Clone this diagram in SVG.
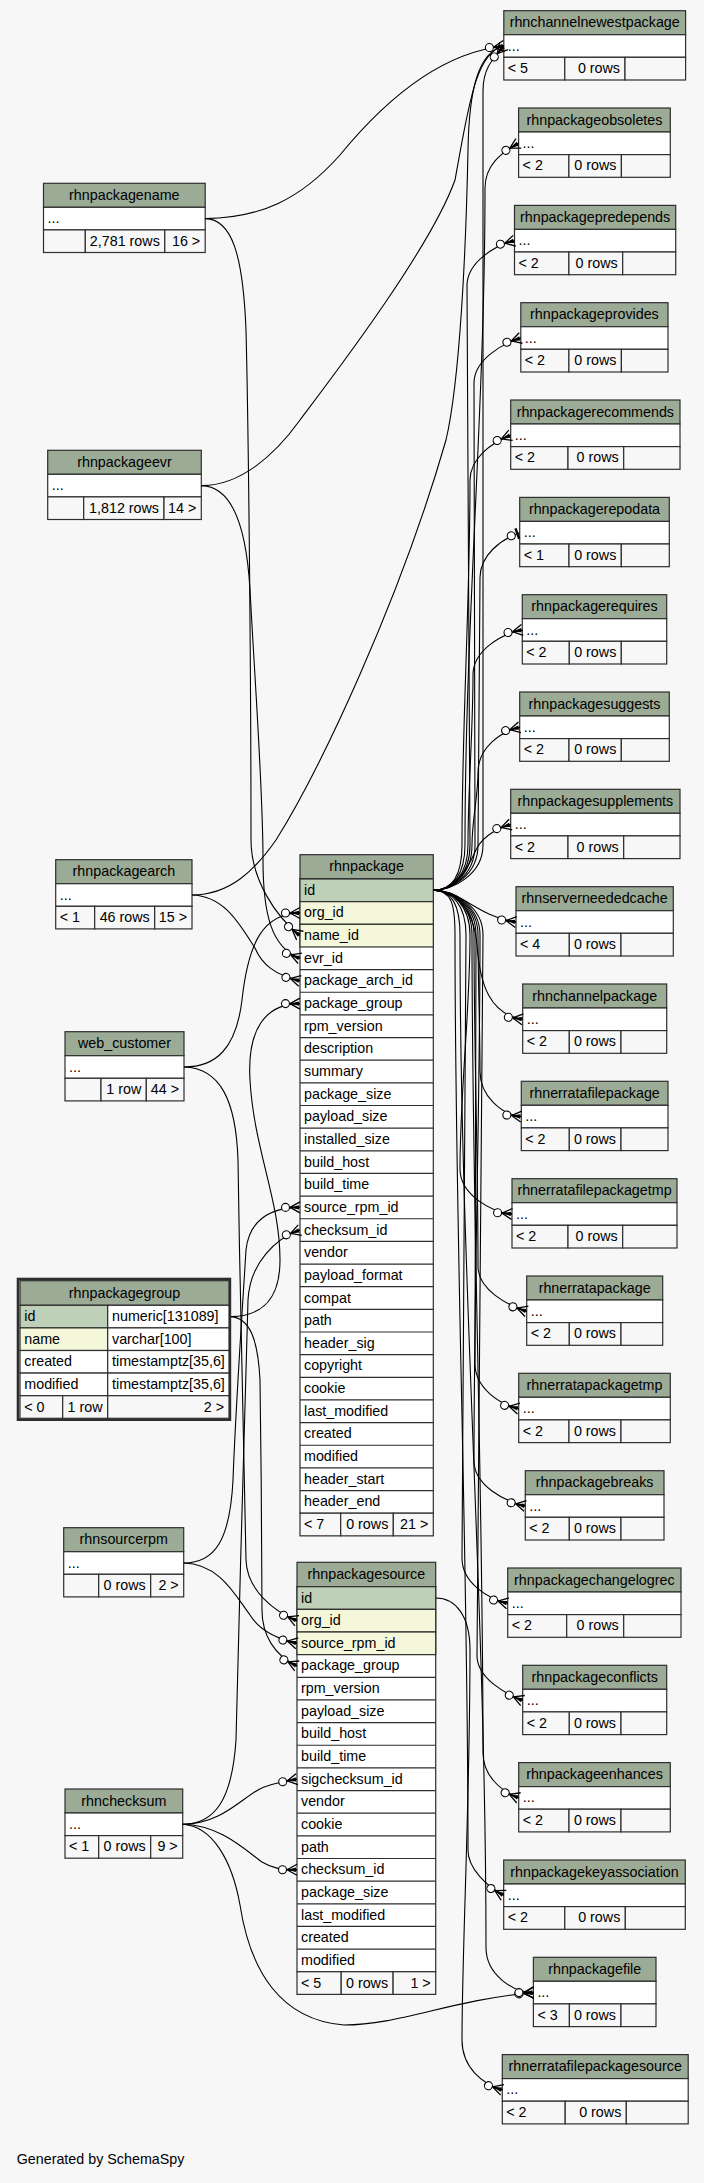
<svg xmlns="http://www.w3.org/2000/svg" width="704" height="2183" viewBox="0 0 704 2183">
<style>
.t{font-family:"Liberation Sans",Arial,Helvetica,sans-serif;font-size:14.3px;fill:#000}
.m{text-anchor:middle}
.r{text-anchor:end}
.c{stroke:#2e2e2e;stroke-width:1.2}
.hd{fill:#9bab96}
.pk{fill:#bed1b8}
.ix{fill:#f4f7da}
.w{fill:#fff}
.f{fill:#f7f7f7}
.ln{fill:none;stroke:#2e2e2e;stroke-width:1.2}
.e{fill:none;stroke:#000;stroke-width:1.1}
</style>
<defs>
<g id="crow">
<path d="M-10,0 L0,-5.5 M-10,0 L0,5.5 M-10,0 L0,0" fill="none" stroke="#000" stroke-width="1.3"/>
<path d="M-10,0 L-1,-2.2 L-1,2.2 Z" fill="#000"/>
<circle cx="-14.5" cy="0" r="4" fill="#fff" stroke="#000" stroke-width="1.1"/>
</g>
<g id="tee">
<path d="M-2.5,-5.5 L-2.5,5.5" stroke="#000" stroke-width="2.4"/>
<circle cx="-9" cy="0" r="4" fill="#fff" stroke="#000" stroke-width="1.1"/>
</g>
</defs>
<rect x="0" y="0" width="704" height="2183" fill="#f7f7f7"/>

<g id="rhnpackagename">
<rect class="hd c" x="43.5" y="183.3" width="161.7" height="24"/>
<rect class="w c" x="43.5" y="207.3" width="161.7" height="22.6"/>
<rect class="f c" x="43.5" y="229.9" width="41.8" height="22.6"/>
<rect class="f c" x="85.3" y="229.9" width="79.5" height="22.6"/>
<rect class="f c" x="164.8" y="229.9" width="40.4" height="22.6"/>
<text class="t m" x="124.35" y="199.8">rhnpackagename</text>
<text class="t" x="47.5" y="223.1">...</text>
<text class="t r" x="159.8" y="245.7">2,781 rows</text>
<text class="t r" x="200.2" y="245.7">16 &gt;</text>
</g>

<g id="rhnpackageevr">
<rect class="hd c" x="47.7" y="450.3" width="153.6" height="24"/>
<rect class="w c" x="47.7" y="474.3" width="153.6" height="22.6"/>
<rect class="f c" x="47.7" y="496.9" width="36" height="22.6"/>
<rect class="f c" x="83.7" y="496.9" width="80.3" height="22.6"/>
<rect class="f c" x="164" y="496.9" width="37.3" height="22.6"/>
<text class="t m" x="124.5" y="466.8">rhnpackageevr</text>
<text class="t" x="51.7" y="490.1">...</text>
<text class="t r" x="159" y="512.7">1,812 rows</text>
<text class="t r" x="196.3" y="512.7">14 &gt;</text>
</g>

<g id="rhnpackagearch">
<rect class="hd c" x="55.7" y="859.7" width="136.3" height="24"/>
<rect class="w c" x="55.7" y="883.7" width="136.3" height="22.6"/>
<rect class="f c" x="55.7" y="906.3" width="39" height="22.6"/>
<rect class="f c" x="94.7" y="906.3" width="60" height="22.6"/>
<rect class="f c" x="154.7" y="906.3" width="37.3" height="22.6"/>
<text class="t m" x="123.85" y="876.2">rhnpackagearch</text>
<text class="t" x="59.7" y="899.5">...</text>
<text class="t" x="59.7" y="922.1">&lt; 1</text>
<text class="t r" x="149.7" y="922.1">46 rows</text>
<text class="t r" x="187" y="922.1">15 &gt;</text>
</g>

<g id="web_customer">
<rect class="hd c" x="65" y="1031.7" width="119" height="24"/>
<rect class="w c" x="65" y="1055.7" width="119" height="22.6"/>
<rect class="f c" x="65" y="1078.3" width="36" height="22.6"/>
<rect class="f c" x="101" y="1078.3" width="45.3" height="22.6"/>
<rect class="f c" x="146.3" y="1078.3" width="37.7" height="22.6"/>
<text class="t m" x="124.5" y="1048.2">web_customer</text>
<text class="t" x="69" y="1071.5">...</text>
<text class="t r" x="141.3" y="1094.1">1 row</text>
<text class="t r" x="179" y="1094.1">44 &gt;</text>
</g>

<g id="rhnpackagegroup">
<rect x="18" y="1279" width="211.9" height="140.7" fill="#fff" stroke="#2e2e2e" stroke-width="2.6"/>
<rect class="hd c" x="20" y="1280.7" width="209" height="24.6"/>
<rect class="pk c" x="20" y="1305.3" width="87.7" height="22.6"/>
<rect class="w c" x="107.7" y="1305.3" width="121.3" height="22.6"/>
<rect class="ix c" x="20" y="1327.9" width="87.7" height="22.6"/>
<rect class="w c" x="107.7" y="1327.9" width="121.3" height="22.6"/>
<rect class="w c" x="20" y="1350.5" width="87.7" height="22.6"/>
<rect class="w c" x="107.7" y="1350.5" width="121.3" height="22.6"/>
<rect class="w c" x="20" y="1373.1" width="87.7" height="22.6"/>
<rect class="w c" x="107.7" y="1373.1" width="121.3" height="22.6"/>
<rect class="f c" x="20" y="1395.7" width="42.7" height="22.6"/>
<rect class="f c" x="62.7" y="1395.7" width="45" height="22.6"/>
<rect class="f c" x="107.7" y="1395.7" width="121.3" height="22.6"/>
<text class="t m" x="124.5" y="1297.5">rhnpackagegroup</text>
<text class="t" x="24.3" y="1321.1">id</text>
<text class="t" x="112" y="1321.1">numeric[131089]</text>
<text class="t" x="24.3" y="1343.7">name</text>
<text class="t" x="112" y="1343.7">varchar[100]</text>
<text class="t" x="24.3" y="1366.3">created</text>
<text class="t" x="112" y="1366.3">timestamptz[35,6]</text>
<text class="t" x="24.3" y="1388.9">modified</text>
<text class="t" x="112" y="1388.9">timestamptz[35,6]</text>
<text class="t" x="24.3" y="1411.5">&lt; 0</text>
<text class="t r" x="102.5" y="1411.5">1 row</text>
<text class="t r" x="224" y="1411.5">2 &gt;</text>
</g>

<g id="rhnsourcerpm">
<rect class="hd c" x="63.7" y="1527.7" width="120" height="24"/>
<rect class="w c" x="63.7" y="1551.7" width="120" height="22.6"/>
<rect class="f c" x="63.7" y="1574.3" width="35" height="22.6"/>
<rect class="f c" x="98.7" y="1574.3" width="52" height="22.6"/>
<rect class="f c" x="150.7" y="1574.3" width="33" height="22.6"/>
<text class="t m" x="123.7" y="1544.2">rhnsourcerpm</text>
<text class="t" x="67.7" y="1567.5">...</text>
<text class="t r" x="145.7" y="1590.1">0 rows</text>
<text class="t r" x="178.7" y="1590.1">2 &gt;</text>
</g>

<g id="rhnchecksum">
<rect class="hd c" x="65" y="1789" width="117.7" height="24"/>
<rect class="w c" x="65" y="1813" width="117.7" height="22.6"/>
<rect class="f c" x="65" y="1835.6" width="33.7" height="22.6"/>
<rect class="f c" x="98.7" y="1835.6" width="52" height="22.6"/>
<rect class="f c" x="150.7" y="1835.6" width="32" height="22.6"/>
<text class="t m" x="123.85" y="1805.5">rhnchecksum</text>
<text class="t" x="69" y="1828.8">...</text>
<text class="t" x="69" y="1851.4">&lt; 1</text>
<text class="t r" x="145.7" y="1851.4">0 rows</text>
<text class="t r" x="177.7" y="1851.4">9 &gt;</text>
</g>

<g id="rhnpackage">
<rect class="hd c" x="300" y="854.7" width="133.3" height="24.3"/>
<rect class="w c" x="300" y="879" width="133.3" height="634.2"/>
<rect class="pk c" x="300" y="879" width="133.3" height="22.65"/>
<rect class="ix c" x="300" y="901.65" width="133.3" height="22.65"/>
<rect class="ix c" x="300" y="924.3" width="133.3" height="22.65"/>
<path class="ln" d="M300,969.6H433.3M300,992.25H433.3M300,1014.9H433.3M300,1037.55H433.3M300,1060.2H433.3M300,1082.85H433.3M300,1105.5H433.3M300,1128.15H433.3M300,1150.8H433.3M300,1173.45H433.3M300,1196.1H433.3M300,1218.75H433.3M300,1241.4H433.3M300,1264.05H433.3M300,1286.7H433.3M300,1309.35H433.3M300,1332H433.3M300,1354.65H433.3M300,1377.3H433.3M300,1399.95H433.3M300,1422.6H433.3M300,1445.25H433.3M300,1467.9H433.3M300,1490.55H433.3"/>
<rect class="f c" x="300" y="1513.2" width="40.7" height="22.65"/>
<rect class="f c" x="340.7" y="1513.2" width="52.6" height="22.65"/>
<rect class="f c" x="393.3" y="1513.2" width="40" height="22.65"/>
<text class="t m" x="366.65" y="871.35">rhnpackage</text>
<text class="t" x="304" y="894.8">id</text>
<text class="t" x="304" y="917.45">org_id</text>
<text class="t" x="304" y="940.1">name_id</text>
<text class="t" x="304" y="962.75">evr_id</text>
<text class="t" x="304" y="985.4">package_arch_id</text>
<text class="t" x="304" y="1008.05">package_group</text>
<text class="t" x="304" y="1030.7">rpm_version</text>
<text class="t" x="304" y="1053.35">description</text>
<text class="t" x="304" y="1076">summary</text>
<text class="t" x="304" y="1098.65">package_size</text>
<text class="t" x="304" y="1121.3">payload_size</text>
<text class="t" x="304" y="1143.95">installed_size</text>
<text class="t" x="304" y="1166.6">build_host</text>
<text class="t" x="304" y="1189.25">build_time</text>
<text class="t" x="304" y="1211.9">source_rpm_id</text>
<text class="t" x="304" y="1234.55">checksum_id</text>
<text class="t" x="304" y="1257.2">vendor</text>
<text class="t" x="304" y="1279.85">payload_format</text>
<text class="t" x="304" y="1302.5">compat</text>
<text class="t" x="304" y="1325.15">path</text>
<text class="t" x="304" y="1347.8">header_sig</text>
<text class="t" x="304" y="1370.45">copyright</text>
<text class="t" x="304" y="1393.1">cookie</text>
<text class="t" x="304" y="1415.75">last_modified</text>
<text class="t" x="304" y="1438.4">created</text>
<text class="t" x="304" y="1461.05">modified</text>
<text class="t" x="304" y="1483.7">header_start</text>
<text class="t" x="304" y="1506.35">header_end</text>
<text class="t" x="304" y="1529">&lt; 7</text>
<text class="t r" x="388.3" y="1529">0 rows</text>
<text class="t r" x="428.3" y="1529">21 &gt;</text>
</g>

<g id="rhnpackagesource">
<rect class="hd c" x="297" y="1562.3" width="138.7" height="24.4"/>
<rect class="w c" x="297" y="1586.7" width="138.7" height="385.05"/>
<rect class="pk c" x="297" y="1586.7" width="138.7" height="22.65"/>
<rect class="ix c" x="297" y="1609.35" width="138.7" height="22.65"/>
<rect class="ix c" x="297" y="1632" width="138.7" height="22.65"/>
<path class="ln" d="M297,1677.3H435.7M297,1699.95H435.7M297,1722.6H435.7M297,1745.25H435.7M297,1767.9H435.7M297,1790.55H435.7M297,1813.2H435.7M297,1835.85H435.7M297,1858.5H435.7M297,1881.15H435.7M297,1903.8H435.7M297,1926.45H435.7M297,1949.1H435.7"/>
<rect class="f c" x="297" y="1971.75" width="44.2" height="22.65"/>
<rect class="f c" x="341.2" y="1971.75" width="51.9" height="22.65"/>
<rect class="f c" x="393.1" y="1971.75" width="42.6" height="22.65"/>
<text class="t m" x="366.35" y="1579">rhnpackagesource</text>
<text class="t" x="301" y="1602.5">id</text>
<text class="t" x="301" y="1625.15">org_id</text>
<text class="t" x="301" y="1647.8">source_rpm_id</text>
<text class="t" x="301" y="1670.45">package_group</text>
<text class="t" x="301" y="1693.1">rpm_version</text>
<text class="t" x="301" y="1715.75">payload_size</text>
<text class="t" x="301" y="1738.4">build_host</text>
<text class="t" x="301" y="1761.05">build_time</text>
<text class="t" x="301" y="1783.7">sigchecksum_id</text>
<text class="t" x="301" y="1806.35">vendor</text>
<text class="t" x="301" y="1829">cookie</text>
<text class="t" x="301" y="1851.65">path</text>
<text class="t" x="301" y="1874.3">checksum_id</text>
<text class="t" x="301" y="1896.95">package_size</text>
<text class="t" x="301" y="1919.6">last_modified</text>
<text class="t" x="301" y="1942.25">created</text>
<text class="t" x="301" y="1964.9">modified</text>
<text class="t" x="301" y="1987.55">&lt; 5</text>
<text class="t r" x="388.1" y="1987.55">0 rows</text>
<text class="t r" x="430.7" y="1987.55">1 &gt;</text>
</g>

<g id="rhnchannelnewestpackage">
<rect class="hd c" x="503.8" y="10.7" width="181.8" height="24"/>
<rect class="w c" x="503.8" y="34.7" width="181.8" height="22.6"/>
<rect class="f c" x="503.8" y="57.3" width="61" height="22.7"/>
<rect class="f c" x="564.8" y="57.3" width="60.2" height="22.7"/>
<rect class="f c" x="625" y="57.3" width="60.6" height="22.7"/>
<text class="t m" x="594.7" y="27.2">rhnchannelnewestpackage</text>
<text class="t" x="507.8" y="50.5">...</text>
<text class="t" x="507.8" y="73.1">&lt; 5</text>
<text class="t r" x="620" y="73.1">0 rows</text>
</g>

<g id="rhnpackageobsoletes">
<rect class="hd c" x="518.6" y="108" width="151.7" height="24"/>
<rect class="w c" x="518.6" y="132" width="151.7" height="22.6"/>
<rect class="f c" x="518.6" y="154.6" width="50.3" height="22.7"/>
<rect class="f c" x="568.9" y="154.6" width="52.5" height="22.7"/>
<rect class="f c" x="621.4" y="154.6" width="48.9" height="22.7"/>
<text class="t m" x="594.45" y="124.5">rhnpackageobsoletes</text>
<text class="t" x="522.6" y="147.8">...</text>
<text class="t" x="522.6" y="170.4">&lt; 2</text>
<text class="t r" x="616.4" y="170.4">0 rows</text>
</g>

<g id="rhnpackagepredepends">
<rect class="hd c" x="514.5" y="205.4" width="161.2" height="24"/>
<rect class="w c" x="514.5" y="229.4" width="161.2" height="22.6"/>
<rect class="f c" x="514.5" y="252" width="54.4" height="22.7"/>
<rect class="f c" x="568.9" y="252" width="53.8" height="22.7"/>
<rect class="f c" x="622.7" y="252" width="53" height="22.7"/>
<text class="t m" x="595.1" y="221.9">rhnpackagepredepends</text>
<text class="t" x="518.5" y="245.2">...</text>
<text class="t" x="518.5" y="267.8">&lt; 2</text>
<text class="t r" x="617.7" y="267.8">0 rows</text>
</g>

<g id="rhnpackageprovides">
<rect class="hd c" x="520.8" y="302.7" width="147.2" height="24"/>
<rect class="w c" x="520.8" y="326.7" width="147.2" height="22.6"/>
<rect class="f c" x="520.8" y="349.3" width="48.1" height="22.7"/>
<rect class="f c" x="568.9" y="349.3" width="52.5" height="22.7"/>
<rect class="f c" x="621.4" y="349.3" width="46.6" height="22.7"/>
<text class="t m" x="594.4" y="319.2">rhnpackageprovides</text>
<text class="t" x="524.8" y="342.5">...</text>
<text class="t" x="524.8" y="365.1">&lt; 2</text>
<text class="t r" x="616.4" y="365.1">0 rows</text>
</g>

<g id="rhnpackagerecommends">
<rect class="hd c" x="510.7" y="400" width="169.3" height="24"/>
<rect class="w c" x="510.7" y="424" width="169.3" height="22.6"/>
<rect class="f c" x="510.7" y="446.6" width="57.3" height="22.7"/>
<rect class="f c" x="568" y="446.6" width="55.7" height="22.7"/>
<rect class="f c" x="623.7" y="446.6" width="56.3" height="22.7"/>
<text class="t m" x="595.35" y="416.5">rhnpackagerecommends</text>
<text class="t" x="514.7" y="439.8">...</text>
<text class="t" x="514.7" y="462.4">&lt; 2</text>
<text class="t r" x="618.7" y="462.4">0 rows</text>
</g>

<g id="rhnpackagerepodata">
<rect class="hd c" x="519.7" y="497.4" width="149.6" height="24"/>
<rect class="w c" x="519.7" y="521.4" width="149.6" height="22.6"/>
<rect class="f c" x="519.7" y="544" width="49.3" height="22.7"/>
<rect class="f c" x="569" y="544" width="52.3" height="22.7"/>
<rect class="f c" x="621.3" y="544" width="48" height="22.7"/>
<text class="t m" x="594.5" y="513.9">rhnpackagerepodata</text>
<text class="t" x="523.7" y="537.2">...</text>
<text class="t" x="523.7" y="559.8">&lt; 1</text>
<text class="t r" x="616.3" y="559.8">0 rows</text>
</g>

<g id="rhnpackagerequires">
<rect class="hd c" x="522.3" y="594.7" width="144.4" height="24"/>
<rect class="w c" x="522.3" y="618.7" width="144.4" height="22.6"/>
<rect class="f c" x="522.3" y="641.3" width="47" height="22.7"/>
<rect class="f c" x="569.3" y="641.3" width="52" height="22.7"/>
<rect class="f c" x="621.3" y="641.3" width="45.4" height="22.7"/>
<text class="t m" x="594.5" y="611.2">rhnpackagerequires</text>
<text class="t" x="526.3" y="634.5">...</text>
<text class="t" x="526.3" y="657.1">&lt; 2</text>
<text class="t r" x="616.3" y="657.1">0 rows</text>
</g>

<g id="rhnpackagesuggests">
<rect class="hd c" x="519.7" y="692" width="149.6" height="24"/>
<rect class="w c" x="519.7" y="716" width="149.6" height="22.6"/>
<rect class="f c" x="519.7" y="738.6" width="49.3" height="22.7"/>
<rect class="f c" x="569" y="738.6" width="52.3" height="22.7"/>
<rect class="f c" x="621.3" y="738.6" width="48" height="22.7"/>
<text class="t m" x="594.5" y="708.5">rhnpackagesuggests</text>
<text class="t" x="523.7" y="731.8">...</text>
<text class="t" x="523.7" y="754.4">&lt; 2</text>
<text class="t r" x="616.3" y="754.4">0 rows</text>
</g>

<g id="rhnpackagesupplements">
<rect class="hd c" x="510.7" y="789.3" width="169.3" height="24"/>
<rect class="w c" x="510.7" y="813.3" width="169.3" height="22.6"/>
<rect class="f c" x="510.7" y="835.9" width="57.3" height="22.7"/>
<rect class="f c" x="568" y="835.9" width="55.7" height="22.7"/>
<rect class="f c" x="623.7" y="835.9" width="56.3" height="22.7"/>
<text class="t m" x="595.35" y="805.8">rhnpackagesupplements</text>
<text class="t" x="514.7" y="829.1">...</text>
<text class="t" x="514.7" y="851.7">&lt; 2</text>
<text class="t r" x="618.7" y="851.7">0 rows</text>
</g>

<g id="rhnserverneededcache">
<rect class="hd c" x="516" y="886.7" width="157.3" height="24"/>
<rect class="w c" x="516" y="910.7" width="157.3" height="22.6"/>
<rect class="f c" x="516" y="933.3" width="53.3" height="22.7"/>
<rect class="f c" x="569.3" y="933.3" width="51.7" height="22.7"/>
<rect class="f c" x="621" y="933.3" width="52.3" height="22.7"/>
<text class="t m" x="594.65" y="903.2">rhnserverneededcache</text>
<text class="t" x="520" y="926.5">...</text>
<text class="t" x="520" y="949.1">&lt; 4</text>
<text class="t r" x="616" y="949.1">0 rows</text>
</g>

<g id="rhnchannelpackage">
<rect class="hd c" x="522.7" y="984" width="144" height="24"/>
<rect class="w c" x="522.7" y="1008" width="144" height="22.6"/>
<rect class="f c" x="522.7" y="1030.6" width="46.6" height="22.7"/>
<rect class="f c" x="569.3" y="1030.6" width="51.7" height="22.7"/>
<rect class="f c" x="621" y="1030.6" width="45.7" height="22.7"/>
<text class="t m" x="594.7" y="1000.5">rhnchannelpackage</text>
<text class="t" x="526.7" y="1023.8">...</text>
<text class="t" x="526.7" y="1046.4">&lt; 2</text>
<text class="t r" x="616" y="1046.4">0 rows</text>
</g>

<g id="rhnerratafilepackage">
<rect class="hd c" x="521.3" y="1081.3" width="146.7" height="24"/>
<rect class="w c" x="521.3" y="1105.3" width="146.7" height="22.6"/>
<rect class="f c" x="521.3" y="1127.9" width="48" height="22.7"/>
<rect class="f c" x="569.3" y="1127.9" width="51.7" height="22.7"/>
<rect class="f c" x="621" y="1127.9" width="47" height="22.7"/>
<text class="t m" x="594.65" y="1097.8">rhnerratafilepackage</text>
<text class="t" x="525.3" y="1121.1">...</text>
<text class="t" x="525.3" y="1143.7">&lt; 2</text>
<text class="t r" x="616" y="1143.7">0 rows</text>
</g>

<g id="rhnerratafilepackagetmp">
<rect class="hd c" x="512" y="1178.7" width="165" height="24"/>
<rect class="w c" x="512" y="1202.7" width="165" height="22.6"/>
<rect class="f c" x="512" y="1225.3" width="56" height="22.7"/>
<rect class="f c" x="568" y="1225.3" width="54.7" height="22.7"/>
<rect class="f c" x="622.7" y="1225.3" width="54.3" height="22.7"/>
<text class="t m" x="594.5" y="1195.2">rhnerratafilepackagetmp</text>
<text class="t" x="516" y="1218.5">...</text>
<text class="t" x="516" y="1241.1">&lt; 2</text>
<text class="t r" x="617.7" y="1241.1">0 rows</text>
</g>

<g id="rhnerratapackage">
<rect class="hd c" x="526.7" y="1276" width="136" height="24"/>
<rect class="w c" x="526.7" y="1300" width="136" height="22.6"/>
<rect class="f c" x="526.7" y="1322.6" width="42.6" height="22.7"/>
<rect class="f c" x="569.3" y="1322.6" width="51.7" height="22.7"/>
<rect class="f c" x="621" y="1322.6" width="41.7" height="22.7"/>
<text class="t m" x="594.7" y="1292.5">rhnerratapackage</text>
<text class="t" x="530.7" y="1315.8">...</text>
<text class="t" x="530.7" y="1338.4">&lt; 2</text>
<text class="t r" x="616" y="1338.4">0 rows</text>
</g>

<g id="rhnerratapackagetmp">
<rect class="hd c" x="518.7" y="1373.3" width="151.6" height="24"/>
<rect class="w c" x="518.7" y="1397.3" width="151.6" height="22.6"/>
<rect class="f c" x="518.7" y="1419.9" width="50.3" height="22.7"/>
<rect class="f c" x="569" y="1419.9" width="52" height="22.7"/>
<rect class="f c" x="621" y="1419.9" width="49.3" height="22.7"/>
<text class="t m" x="594.5" y="1389.8">rhnerratapackagetmp</text>
<text class="t" x="522.7" y="1413.1">...</text>
<text class="t" x="522.7" y="1435.7">&lt; 2</text>
<text class="t r" x="616" y="1435.7">0 rows</text>
</g>

<g id="rhnpackagebreaks">
<rect class="hd c" x="525.3" y="1470.7" width="138.7" height="24"/>
<rect class="w c" x="525.3" y="1494.7" width="138.7" height="22.6"/>
<rect class="f c" x="525.3" y="1517.3" width="44" height="22.7"/>
<rect class="f c" x="569.3" y="1517.3" width="51.7" height="22.7"/>
<rect class="f c" x="621" y="1517.3" width="43" height="22.7"/>
<text class="t m" x="594.65" y="1487.2">rhnpackagebreaks</text>
<text class="t" x="529.3" y="1510.5">...</text>
<text class="t" x="529.3" y="1533.1">&lt; 2</text>
<text class="t r" x="616" y="1533.1">0 rows</text>
</g>

<g id="rhnpackagechangelogrec">
<rect class="hd c" x="507.7" y="1568" width="173.3" height="24"/>
<rect class="w c" x="507.7" y="1592" width="173.3" height="22.6"/>
<rect class="f c" x="507.7" y="1614.6" width="59" height="22.7"/>
<rect class="f c" x="566.7" y="1614.6" width="57" height="22.7"/>
<rect class="f c" x="623.7" y="1614.6" width="57.3" height="22.7"/>
<text class="t m" x="594.35" y="1584.5">rhnpackagechangelogrec</text>
<text class="t" x="511.7" y="1607.8">...</text>
<text class="t" x="511.7" y="1630.4">&lt; 2</text>
<text class="t r" x="618.7" y="1630.4">0 rows</text>
</g>

<g id="rhnpackageconflicts">
<rect class="hd c" x="522.7" y="1665.3" width="144" height="24"/>
<rect class="w c" x="522.7" y="1689.3" width="144" height="22.6"/>
<rect class="f c" x="522.7" y="1711.9" width="46.6" height="22.7"/>
<rect class="f c" x="569.3" y="1711.9" width="51.7" height="22.7"/>
<rect class="f c" x="621" y="1711.9" width="45.7" height="22.7"/>
<text class="t m" x="594.7" y="1681.8">rhnpackageconflicts</text>
<text class="t" x="526.7" y="1705.1">...</text>
<text class="t" x="526.7" y="1727.7">&lt; 2</text>
<text class="t r" x="616" y="1727.7">0 rows</text>
</g>

<g id="rhnpackageenhances">
<rect class="hd c" x="518.7" y="1762.6" width="151.6" height="24"/>
<rect class="w c" x="518.7" y="1786.6" width="151.6" height="22.6"/>
<rect class="f c" x="518.7" y="1809.2" width="50.3" height="22.7"/>
<rect class="f c" x="569" y="1809.2" width="52" height="22.7"/>
<rect class="f c" x="621" y="1809.2" width="49.3" height="22.7"/>
<text class="t m" x="594.5" y="1779.1">rhnpackageenhances</text>
<text class="t" x="522.7" y="1802.4">...</text>
<text class="t" x="522.7" y="1825">&lt; 2</text>
<text class="t r" x="616" y="1825">0 rows</text>
</g>

<g id="rhnpackagekeyassociation">
<rect class="hd c" x="503.7" y="1860" width="181.6" height="24"/>
<rect class="w c" x="503.7" y="1884" width="181.6" height="22.6"/>
<rect class="f c" x="503.7" y="1906.6" width="61.1" height="22.7"/>
<rect class="f c" x="564.8" y="1906.6" width="60.5" height="22.7"/>
<rect class="f c" x="625.3" y="1906.6" width="60" height="22.7"/>
<text class="t m" x="594.5" y="1876.5">rhnpackagekeyassociation</text>
<text class="t" x="507.7" y="1899.8">...</text>
<text class="t" x="507.7" y="1922.4">&lt; 2</text>
<text class="t r" x="620.3" y="1922.4">0 rows</text>
</g>

<g id="rhnpackagefile">
<rect class="hd c" x="533.4" y="1957.3" width="122.6" height="24"/>
<rect class="w c" x="533.4" y="1981.3" width="122.6" height="22.6"/>
<rect class="f c" x="533.4" y="2003.9" width="36" height="22.7"/>
<rect class="f c" x="569.4" y="2003.9" width="51.6" height="22.7"/>
<rect class="f c" x="621" y="2003.9" width="35" height="22.7"/>
<text class="t m" x="594.7" y="1973.8">rhnpackagefile</text>
<text class="t" x="537.4" y="1997.1">...</text>
<text class="t" x="537.4" y="2019.7">&lt; 3</text>
<text class="t r" x="616" y="2019.7">0 rows</text>
</g>

<g id="rhnerratafilepackagesource">
<rect class="hd c" x="502.3" y="2054.6" width="185.9" height="24"/>
<rect class="w c" x="502.3" y="2078.6" width="185.9" height="22.6"/>
<rect class="f c" x="502.3" y="2101.2" width="62.9" height="22.7"/>
<rect class="f c" x="565.2" y="2101.2" width="61.1" height="22.7"/>
<rect class="f c" x="626.3" y="2101.2" width="61.9" height="22.7"/>
<text class="t m" x="595.25" y="2071.1">rhnerratafilepackagesource</text>
<text class="t" x="506.3" y="2094.4">...</text>
<text class="t" x="506.3" y="2117">&lt; 2</text>
<text class="t r" x="621.3" y="2117">0 rows</text>
</g>

<g id="connectors">
<path class="e" d="M205.2,218.6 C260,218 300,200 340,155 C385,100 440,53 503.8,46"/>
<path class="e" d="M205.2,218.6 C232,219 243,255 246,330 C249,450 251,700 251,840 C251,880 276.4,917.1 300,935.6"/>
<path class="e" d="M201.3,485.6 C230,486 246,520 250,590 C256,700 263,790 263,860 C263,915 271.8,948 300,958.3"/>
<path class="e" d="M201.3,485.6 C240,486 275,455 300,420 C330,380 430,250 455,180 C468,110 475,52 503.8,46"/>
<path class="e" d="M192,895 C230,895 255,870 276,840 C320,770 400,600 446,440 C460,380 466,250 468,150 C469,90 478,52 503.8,46"/>
<path class="e" d="M192,895 C225,896 240,925 255,948 C262,965 275.7,974.9 300,980.9"/>
<path class="e" d="M184,1067 C215,1067 236,1050 242,1000 C248,945 262,913 300,913"/>
<path class="e" d="M184,1067 C220,1068 236,1100 238,1160 C240,1300 244,1450 246,1560 C247,1590 273.8,1611.2 297,1620.7"/>
<path class="e" d="M231,1316.6 C262,1316 280,1300 280,1260 C280,1200 254,1150 250,1080 C247,1030 265,1003.6 300,1003.6"/>
<path class="e" d="M231,1316.6 C250,1318 258,1340 260,1380 C261,1450 262,1550 262,1610 C262,1635 274.4,1655.3 297,1666"/>
<path class="e" d="M183.7,1563 C215,1563 230,1540 233,1480 C236,1400 243,1300 246,1250 C249,1222 268,1207.4 300,1207.4"/>
<path class="e" d="M183.7,1563 C220,1564 235,1595 250,1615 C258,1628 272.6,1637.7 297,1643.3"/>
<path class="e" d="M182.7,1824.3 C215,1824 232,1800 236,1740 C240,1600 244,1400 248,1300 C250,1262 276.4,1238.2 300,1230.1"/>
<path class="e" d="M182.7,1824.3 C220,1824 240,1800 258,1790 C265,1786 272.4,1783.5 297,1779.2"/>
<path class="e" d="M182.7,1824.3 C220,1825 245,1850 262,1862 C272,1868 280,1869.8 297,1869.8"/>
<path class="e" d="M182.7,1824.3 C212,1826 232,1860 240,1905 C250,1970 280,2020 344,2025 C400,2025 450,2000 533.4,1992.6"/>
<path class="e" d="M435.7,1598 C455,1598 470,1615 470,1650 C470,1800 462,1950 462,2040 C462,2068 483.2,2084.1 502.3,2089.9"/>
<path class="e" d="M433.3,890.3 C452,890.3 483,875 483,845 L483,91 C483,70 490.7,61.1 503.8,46"/>
<path class="e" d="M433.3,890.3 C452,890.3 465,875 465,845 C465,626.1 485,407.2 485,188.3 C485,165 501.1,153 518.6,143.3"/>
<path class="e" d="M433.3,890.3 C452,890.3 470,875 470,845 C470,658.6 467,472.1 467,285.7 C467,262 495.1,245.5 514.5,240.7"/>
<path class="e" d="M433.3,890.3 C452,890.3 475,875 475,845 C475,691 474,537 474,383 C474,360 501.7,343.8 520.8,338"/>
<path class="e" d="M433.3,890.3 C452,890.3 462,875 462,845 C462,723.4 470,601.9 470,480.3 C470,458 492,442.5 510.7,435.3"/>
<path class="e" d="M433.3,890.3 C452,890.3 478,875 478,845 C478,755.9 480,666.8 480,577.7 C480,555 500.9,539.5 519.7,532.7"/>
<path class="e" d="M433.3,890.3 C452,890.3 468,875 468,845 C468,788.3 473,731.7 473,675 C473,650 502.6,633.5 522.3,630"/>
<path class="e" d="M433.3,890.3 C452,890.3 472,875 472,845 C472,820.8 478,796.5 478,772.3 C478,748 500.2,731.8 519.7,727.3"/>
<path class="e" d="M433.3,890.3 C455,890.3 468,868 475,852 C480,840 491.5,830.2 510.7,824.6"/>
<path class="e" d="M433.3,890.3 C462,890.3 476,916 516,922"/>
<path class="e" d="M433.3,890.3 C456,890.3 474,910 477,945 C480,985 490,1014.5 522.7,1019.3"/>
<path class="e" d="M433.3,890.3 C452,890.3 478,905 478,935 C478,980.5 480,1026.1 480,1071.6 C480,1096 501.4,1114.5 521.3,1116.6"/>
<path class="e" d="M433.3,890.3 C452,890.3 470,905 470,935 C470,1013 460,1091 460,1169 C460,1195 492.1,1212.3 512,1214"/>
<path class="e" d="M433.3,890.3 C452,890.3 474,905 474,935 C474,1045.4 478,1155.9 478,1266.3 C478,1290 507.7,1305.1 526.7,1311.3"/>
<path class="e" d="M433.3,890.3 C452,890.3 476,905 476,935 C476,1078 475,1221 475,1363.6 C475,1388 499.2,1404.1 518.7,1408.6"/>
<path class="e" d="M433.3,890.3 C452,890.3 480,905 480,935 C480,1110.3 474,1285.7 474,1461 C474,1486 505.8,1501.5 525.3,1506"/>
<path class="e" d="M433.3,890.3 C452,890.3 466,905 466,935 C466,1142.8 462,1350.5 462,1558.3 C462,1583 488.2,1598.8 507.7,1603.3"/>
<path class="e" d="M433.3,890.3 C452,890.3 483,905 483,935 C483,1175.2 477,1415.4 477,1655.6 C477,1678 504.2,1693.1 522.7,1700.6"/>
<path class="e" d="M433.3,890.3 C452,890.3 472,905 472,935 C472,1207.6 483,1480.3 483,1752.9 C483,1775 500,1790.7 518.7,1797.9"/>
<path class="e" d="M433.3,890.3 C452,890.3 455,905 455,935 C455,1240.1 468,1545.2 468,1850.3 C468,1868 486,1885.9 503.7,1895.3"/>
<path class="e" d="M433.3,890.3 C452,890.3 460,905 460,935 C460,1272.5 486,1610.1 486,1947.6 C486,1975 513.4,1992.6 533.4,1992.6"/>

<use href="#crow" transform="translate(503.8,46) rotate(-6)"/>
<use href="#crow" transform="translate(503.8,46) rotate(-49)"/>
<use href="#crow" transform="translate(300,935.6) rotate(38)"/>
<use href="#crow" transform="translate(300,958.3) rotate(20)"/>
<use href="#crow" transform="translate(300,980.9) rotate(14)"/>
<use href="#crow" transform="translate(300,913)"/>
<use href="#crow" transform="translate(297,1620.7) rotate(22)"/>
<use href="#crow" transform="translate(300,1003.6)"/>
<use href="#crow" transform="translate(297,1666) rotate(25)"/>
<use href="#crow" transform="translate(300,1207.4)"/>
<use href="#crow" transform="translate(297,1643.3) rotate(13)"/>
<use href="#crow" transform="translate(300,1230.1) rotate(-19)"/>
<use href="#crow" transform="translate(297,1779.2) rotate(-10)"/>
<use href="#crow" transform="translate(297,1869.8)"/>
<use href="#crow" transform="translate(533.4,1992.6) rotate(-5)"/>
<use href="#crow" transform="translate(502.3,2089.9) rotate(17)"/>
<use href="#crow" transform="translate(518.6,143.3) rotate(-29)"/>
<use href="#crow" transform="translate(514.5,240.7) rotate(-14)"/>
<use href="#crow" transform="translate(520.8,338) rotate(-17)"/>
<use href="#crow" transform="translate(510.7,435.3) rotate(-21)"/>
<use href="#tee" transform="translate(519.7,532.7) rotate(-20)"/>
<use href="#crow" transform="translate(522.3,630) rotate(-10)"/>
<use href="#crow" transform="translate(519.7,727.3) rotate(-13)"/>
<use href="#crow" transform="translate(510.7,824.6) rotate(-16)"/>
<use href="#crow" transform="translate(516,922) rotate(8)"/>
<use href="#crow" transform="translate(522.7,1019.3) rotate(8)"/>
<use href="#crow" transform="translate(521.3,1116.6) rotate(6)"/>
<use href="#crow" transform="translate(512,1214) rotate(5)"/>
<use href="#crow" transform="translate(526.7,1311.3) rotate(18)"/>
<use href="#crow" transform="translate(518.7,1408.6) rotate(13)"/>
<use href="#crow" transform="translate(525.3,1506) rotate(13)"/>
<use href="#crow" transform="translate(507.7,1603.3) rotate(13)"/>
<use href="#crow" transform="translate(522.7,1700.6) rotate(22)"/>
<use href="#crow" transform="translate(518.7,1797.9) rotate(21)"/>
<use href="#crow" transform="translate(503.7,1895.3) rotate(28)"/>
<use href="#crow" transform="translate(533.4,1992.6)"/>
</g>

<text class="t" x="16.7" y="2164">Generated by SchemaSpy</text>
</svg>
